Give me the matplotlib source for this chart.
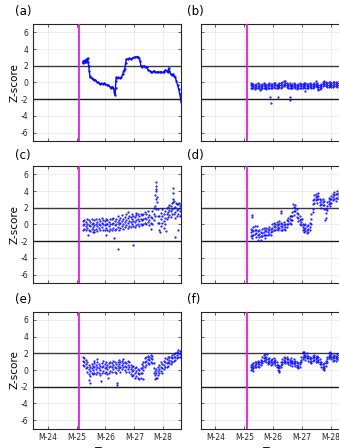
import matplotlib
matplotlib.use("Agg")
import matplotlib.pyplot as plt

plt.rcParams['font.family'] = ['DejaVu Sans']
plt.rcParams['axes.unicode_minus'] = False

# time in months (M-24 ... M-28)
x_ticks = [24, 25, 26, 27, 28]
x_labels = ['M-24', 'M-25', 'M-26', 'M-27', 'M-28']
y_ticks = [-6, -4, -2, 0, 2, 4, 6]
event_month = 25.08
panel_names = ['(a)', '(b)', '(c)', '(d)', '(e)', '(f)']

# panel (a): a single smooth track
a_x = [25.22, 25.24, 25.26, 25.28, 25.30, 25.32, 25.34, 25.36, 25.38, 25.40,
       25.42, 25.44, 25.46, 25.48, 25.52, 25.56, 25.60, 25.65, 25.70, 25.75,
       25.80, 25.85, 25.90, 25.95, 26.00, 26.05, 26.10, 26.15, 26.20, 26.24,
       26.28, 26.31, 26.33, 26.35, 26.36, 26.38, 26.40, 26.45, 26.50, 26.55,
       26.60, 26.63, 26.67, 26.70, 26.73, 26.78, 26.83, 26.88, 26.93, 26.98,
       27.03, 27.08, 27.12, 27.16, 27.20, 27.23, 27.28, 27.33, 27.38, 27.43,
       27.48, 27.53, 27.58, 27.63, 27.68, 27.73, 27.78, 27.83, 27.88, 27.93,
       27.98, 28.03, 28.08, 28.12, 28.16, 28.19, 28.22, 28.26, 28.30, 28.34,
       28.38, 28.42, 28.46, 28.50, 28.54, 28.58, 28.62]
a_y = [2.3, 2.6, 2.4, 2.5, 2.7, 2.5, 2.6, 2.8, 2.9, 2.4,
       2.0, 1.4, 0.8, 0.6, 0.5, 0.4, 0.3, 0.3, 0.1, 0.0,
       -0.2, -0.1, -0.2, -0.1, -0.2, -0.3, -0.3, -0.5, -0.6, -0.5,
       -0.7, -1.1, -1.5, -0.6, 0.2, 0.6, 0.5, 0.6, 0.5, 0.6,
       1.0, 1.4, 1.6, 2.3, 2.8, 2.8, 2.9, 2.8, 2.9, 3.0,
       3.0, 3.1, 3.1, 2.9, 2.6, 2.0, 1.9, 2.0, 1.9, 1.8,
       1.5, 1.4, 1.3, 1.2, 1.4, 1.3, 1.2, 1.3, 1.2, 1.3,
       1.2, 1.3, 1.5, 1.4, 1.2, 1.7, 1.4, 1.0, 0.9, 1.0,
       0.8, 0.6, 0.2, -0.3, -0.8, -1.4, -2.3]

# panels (b)-(f): scattered bands sampled on a common time grid
t = [25.22, 25.27, 25.32, 25.37, 25.42, 25.47, 25.52, 25.57, 25.62, 25.67,
     25.72, 25.77, 25.82, 25.87, 25.92, 25.97, 26.02, 26.07, 26.12, 26.17,
     26.22, 26.27, 26.32, 26.37, 26.42, 26.47, 26.52, 26.57, 26.62, 26.67,
     26.72, 26.77, 26.82, 26.87, 26.92, 26.97, 27.02, 27.07, 27.12, 27.17,
     27.22, 27.27, 27.32, 27.37, 27.42, 27.47, 27.52, 27.57, 27.62, 27.67,
     27.72, 27.77, 27.82, 27.87, 27.92, 27.97, 28.02, 28.07, 28.12, 28.17,
     28.22, 28.27, 28.32, 28.37, 28.42, 28.47, 28.52, 28.57, 28.62]

b_mid = [-0.35, -0.45, -0.40, -0.50, -0.45, -0.40, -0.45, -0.50, -0.40, -0.35,
         -0.45, -0.50, -0.40, -0.35, -0.45, -0.40, -0.30, -0.35, -0.45, -0.40,
         -0.30, -0.35, -0.25, -0.15, -0.10, -0.30, -0.40, -0.35, -0.45, -0.40,
         -0.30, -0.40, -0.50, -0.40, -0.35, -0.45, -0.40, -0.30, -0.35, -0.45,
         -0.40, -0.30, -0.40, -0.45, -0.30, -0.15, -0.30, -0.50, -0.55, -0.45,
         -0.20, -0.10, -0.20, -0.30, -0.25, -0.20, -0.30, -0.25, -0.15, -0.20,
         -0.25, -0.10, -0.20, -0.25, -0.15, -0.20, -0.10, -0.20, -0.15]
b_hi = [-0.1, -0.2, -0.15, -0.25, -0.2, -0.1, -0.2, -0.3, -0.15, -0.1,
        -0.2, -0.3, -0.15, -0.1, -0.2, -0.15, -0.05, -0.1, -0.25, -0.2,
        -0.05, -0.1, 0.0, 0.15, 0.2, -0.1, -0.15, -0.1, -0.25, -0.2,
        -0.05, -0.2, -0.3, -0.15, -0.1, -0.2, -0.2, -0.05, -0.1, -0.2,
        -0.2, -0.05, -0.15, -0.2, -0.05, 0.15, -0.1, -0.3, -0.3, -0.2,
        0.05, 0.2, 0.0, -0.1, 0.0, 0.05, -0.1, 0.0, 0.1, 0.0,
        -0.05, 0.15, 0.0, -0.05, 0.1, 0.0, 0.1, 0.0, 0.05]
b_lo = [-0.6, -0.7, -0.65, -0.75, -0.7, -0.6, -0.7, -0.75, -0.65, -0.6,
        -0.7, -0.75, -0.65, -0.6, -0.7, -0.65, -0.55, -0.6, -0.7, -0.65,
        -0.55, -0.6, -0.5, -0.4, -0.35, -0.55, -0.65, -0.6, -0.7, -0.65,
        -0.55, -0.65, -0.75, -0.65, -0.6, -0.7, -0.65, -0.55, -0.6, -0.7,
        -0.65, -0.55, -0.65, -0.7, -0.55, -0.4, -0.55, -0.75, -0.8, -0.7,
        -0.45, -0.35, -0.45, -0.55, -0.5, -0.45, -0.55, -0.5, -0.4, -0.45,
        -0.5, -0.35, -0.45, -0.5, -0.4, -0.45, -0.35, -0.45, -0.4]
b_out_x = [25.56, 25.89, 25.91, 26.17, 26.58, 26.59, 27.54, 27.10]
b_out_y = [-0.95, -1.7, -2.4, -1.7, -2.1, -1.75, -0.95, -1.0]

c_mid = [-0.1, 0.0, -0.2, 0.1, -0.1, -0.2, 0.0, -0.3, -0.1, 0.0,
         -0.2, 0.1, -0.1, 0.2, 0.0, -0.1, 0.1, 0.0, -0.2, 0.1,
         0.0, 0.2, -0.1, 0.1, 0.3, 0.0, 0.2, 0.4, 0.1, 0.3,
         0.5, 0.2, 0.4, 0.3, 0.6, 0.4, 0.3, 0.5, 0.6, 0.4,
         0.7, 0.5, 0.6, 0.8, 0.7, 0.9, 0.5, 0.2, 0.8, 1.2,
         2.2, 3.0, 1.0, 0.2, 0.6, 1.0, 0.4, 0.8, 1.2, 1.5,
         1.7, 1.6, 1.8, 2.0, 1.5, 1.7, 1.9, 1.6, 1.8]
c_hi = [0.4, 0.5, 0.3, 0.6, 0.5, 0.3, 0.6, 0.2, 0.5, 0.6,
        0.3, 0.7, 0.4, 0.8, 0.5, 0.4, 0.7, 0.5, 0.3, 0.6,
        0.6, 0.8, 0.4, 0.7, 1.0, 0.5, 0.8, 1.1, 0.6, 0.9,
        1.2, 0.8, 1.0, 0.9, 1.3, 1.0, 0.9, 1.1, 1.3, 1.0,
        1.3, 1.1, 1.2, 1.5, 1.3, 1.6, 1.1, 0.9, 1.6, 2.0,
        3.5, 4.2, 1.9, 1.0, 1.4, 1.8, 1.2, 1.6, 2.0, 2.1,
        2.3, 2.2, 2.6, 2.8, 2.1, 2.4, 2.5, 2.2, 2.4]
c_lo = [-0.6, -0.5, -0.7, -0.4, -0.7, -0.8, -0.5, -0.9, -0.6, -0.5,
        -0.8, -0.4, -0.7, -0.3, -0.6, -0.7, -0.4, -0.6, -0.8, -0.5,
        -0.6, -0.4, -0.7, -0.5, -0.3, -0.6, -0.4, -0.2, -0.5, -0.3,
        -0.1, -0.4, -0.2, -0.3, 0.0, -0.2, -0.3, -0.1, 0.0, -0.2,
        0.1, -0.1, 0.0, 0.2, 0.1, 0.3, -0.1, -0.5, 0.1, 0.5,
        1.0, 1.8, 0.2, -0.6, -0.2, 0.2, -0.4, 0.0, 0.6, 0.9,
        1.1, 0.9, 1.2, 1.3, 0.8, 1.0, 1.2, 1.0, 1.1]
c_out_x = [25.40, 25.60, 26.02, 26.30, 26.42, 26.95, 26.80, 27.05, 27.75,
           27.76, 27.74, 27.78, 27.79, 28.33, 28.34, 28.35, 28.36, 28.45,
           27.90, 28.10, 28.40, 28.50, 28.55]
c_out_y = [-1.3, -0.9, -1.2, -1.6, -2.9, -2.4, 1.5, 1.4, 4.6,
           5.1, 4.0, 3.3, 2.7, 4.4, 3.8, 3.1, 2.7, 2.6,
           -0.9, -0.8, -1.5, -0.6, 2.6]

d_mid = [-0.9, -1.2, -0.8, -0.6, -1.0, -1.3, -1.1, -1.4, -1.0, -0.9,
         -1.2, -0.8, -0.9, -0.7, -0.9, -0.4, -0.2, -0.3, -0.1, -0.3,
         0.0, -0.2, -0.3, -0.1, -0.3, 0.1, 0.4, 0.6, 0.5, 1.0,
         1.6, 2.0, 1.4, 0.8, 0.5, 0.3, -0.3, -0.5, -0.4, -0.6,
         -0.5, -0.3, 0.6, 2.4, 3.0, 3.3, 3.0, 3.4, 2.7, 2.4,
         2.7, 2.3, 1.4, 2.2, 2.8, 2.6, 3.0, 3.3, 3.5, 3.2,
         3.6, 3.4, 3.7, 3.5, 3.6, 3.8, 3.5, 3.7, 3.6]
d_hi = [-0.5, -0.7, -0.3, -0.2, -0.6, -0.8, -0.6, -0.9, -0.5, -0.4,
        -0.7, -0.4, -0.5, -0.3, -0.5, 0.0, 0.2, 0.1, 0.3, 0.1,
        0.4, 0.2, 0.1, 0.3, 0.1, 0.5, 0.8, 1.0, 1.0, 1.5,
        2.1, 2.3, 1.9, 1.3, 1.0, 0.7, 0.1, -0.1, 0.0, -0.2,
        -0.1, 0.2, 1.2, 2.9, 3.5, 3.7, 3.4, 3.8, 3.1, 2.9,
        3.1, 2.8, 1.9, 2.7, 3.2, 3.0, 3.4, 3.7, 3.9, 3.6,
        4.0, 3.8, 4.1, 3.9, 4.0, 4.2, 3.9, 4.1, 4.0]
d_lo = [-1.4, -1.6, -1.3, -1.1, -1.5, -1.8, -1.5, -1.9, -1.4, -1.3,
        -1.6, -1.2, -1.3, -1.1, -1.3, -0.8, -0.6, -0.7, -0.5, -0.7,
        -0.4, -0.6, -0.7, -0.5, -0.7, -0.3, 0.0, 0.2, 0.1, 0.5,
        1.1, 1.6, 0.9, 0.4, 0.1, -0.1, -0.7, -0.9, -0.8, -1.0,
        -0.9, -0.7, 0.1, 1.9, 2.6, 2.9, 2.6, 3.0, 2.3, 2.0,
        2.3, 1.9, 0.8, 1.7, 2.4, 2.2, 2.6, 2.9, 3.1, 2.8,
        3.2, 3.0, 3.3, 3.1, 3.2, 3.4, 3.1, 3.3, 3.2]
d_out_x = [25.26, 25.27, 25.45, 26.27, 26.28, 26.70, 27.00, 27.38, 27.80]
d_out_y = [1.1, 0.9, -0.2, 1.6, 1.4, 2.4, 0.6, 1.5, 0.5]

e_mid = [1.1, 1.0, 0.7, 0.4, 0.1, -0.1, 0.2, 0.0, 0.3, 0.1,
         0.4, 0.2, 0.0, 0.3, 0.5, 0.2, 0.4, 0.1, 0.3, 0.5,
         0.3, 0.6, 0.4, 0.2, 0.5, 0.7, 0.4, 0.6, 0.8, 0.5,
         0.3, 0.6, 0.4, 0.1, -0.1, 0.0, -0.3, -0.1, -0.4, -0.5,
         -0.3, 0.2, 0.5, 0.9, 1.1, 1.3, 1.2, 1.4, 1.3, 0.2,
         -0.6, -0.4, -0.1, 0.1, 0.4, 0.2, 0.6, 0.9, 0.8, 1.0,
         1.2, 1.1, 1.4, 1.5, 1.6, 1.8, 2.0, 1.9, 2.0]
e_hi = [1.5, 1.4, 1.2, 0.9, 0.6, 0.4, 0.7, 0.5, 0.8, 0.6,
        1.0, 0.7, 0.5, 0.8, 1.1, 0.7, 0.9, 0.6, 0.8, 1.0,
        0.8, 1.1, 0.9, 0.7, 1.0, 1.2, 0.9, 1.1, 1.3, 1.0,
        0.8, 1.1, 0.9, 0.6, 0.4, 0.5, 0.2, 0.4, 0.1, 0.0,
        0.2, 0.7, 1.0, 1.4, 1.6, 1.7, 1.6, 1.8, 1.7, 0.8,
        -0.1, 0.1, 0.4, 0.6, 0.9, 0.7, 1.1, 1.4, 1.3, 1.5,
        1.6, 1.5, 1.8, 1.9, 2.0, 2.2, 2.4, 2.3, 2.3]
e_lo = [0.6, 0.5, 0.2, -0.2, -0.5, -0.7, -0.3, -0.5, -0.3, -0.5,
        -0.2, -0.4, -0.6, -0.3, -0.1, -0.4, -0.2, -0.5, -0.3, -0.1,
        -0.2, 0.1, -0.2, -0.4, 0.0, 0.2, -0.2, 0.1, 0.3, 0.0,
        -0.2, 0.1, -0.2, -0.5, -0.7, -0.6, -0.9, -0.7, -1.0, -1.1,
        -0.9, -0.3, 0.0, 0.4, 0.6, 0.8, 0.7, 0.9, 0.8, -0.3,
        -1.1, -0.9, -0.6, -0.4, -0.1, -0.3, 0.1, 0.4, 0.3, 0.5,
        0.8, 0.7, 1.0, 1.1, 1.2, 1.4, 1.6, 1.5, 1.6]
e_out_x = [25.43, 25.46, 25.62, 25.72, 25.85, 26.10, 26.40, 26.41, 27.30, 27.80]
e_out_y = [-1.2, -1.6, 1.1, 1.3, -1.3, -1.0, -1.8, -1.5, -1.1, -1.0]

f_mid = [0.3, 0.4, 0.5, 0.6, 0.7, 0.8, 0.7, 0.9, 1.1, 1.4,
         1.5, 1.3, 1.0, 1.1, 0.9, 1.0, 1.1, 0.9, 0.6, 0.3,
         0.2, 0.6, 1.0, 1.2, 1.1, 1.3, 1.0, 0.9, 1.1, 0.8,
         1.0, 0.8, 0.6, 0.5, 0.7, 1.2, 1.6, 1.8, 1.5, 1.7,
         1.4, 1.3, 1.1, 1.4, 1.5, 1.3, 1.4, 1.2, 1.0, 0.7,
         0.4, 0.5, 0.8, 1.3, 1.7, 1.8, 1.6, 1.4, 1.5, 1.4,
         1.6, 1.5, 1.7, 1.6, 1.5, 1.7, 1.6, 1.5, 1.6]
f_hi = [0.6, 0.7, 0.8, 0.9, 1.0, 1.1, 1.0, 1.2, 1.5, 1.8,
        1.9, 1.6, 1.3, 1.4, 1.2, 1.3, 1.4, 1.2, 0.9, 0.6,
        0.5, 0.9, 1.3, 1.5, 1.4, 1.6, 1.3, 1.2, 1.4, 1.1,
        1.3, 1.1, 0.9, 0.8, 1.0, 1.5, 2.0, 2.2, 1.8, 2.0,
        1.7, 1.6, 1.4, 1.7, 1.8, 1.6, 1.7, 1.5, 1.3, 1.0,
        0.7, 0.8, 1.1, 1.6, 2.0, 2.1, 1.9, 1.7, 1.8, 1.7,
        1.9, 1.8, 2.0, 1.9, 1.8, 2.0, 1.9, 1.8, 1.9]
f_lo = [0.0, 0.1, 0.2, 0.3, 0.4, 0.5, 0.4, 0.6, 0.8, 1.1,
        1.2, 1.0, 0.7, 0.8, 0.6, 0.7, 0.8, 0.6, 0.3, 0.0,
        -0.1, 0.3, 0.7, 0.9, 0.8, 1.0, 0.7, 0.6, 0.8, 0.5,
        0.7, 0.5, 0.3, 0.2, 0.4, 0.9, 1.3, 1.5, 1.2, 1.4,
        1.1, 1.0, 0.8, 1.1, 1.2, 1.0, 1.1, 0.9, 0.7, 0.4,
        0.1, 0.2, 0.5, 1.0, 1.4, 1.5, 1.3, 1.1, 1.2, 1.1,
        1.3, 1.2, 1.4, 1.3, 1.2, 1.4, 1.3, 1.2, 1.3]
f_out_x = [25.30, 25.80, 26.20, 27.05, 27.75]
f_out_y = [-0.1, 1.9, -0.2, 2.2, 0.0]

bands = {
    1: (b_lo, b_mid, b_hi, b_out_x, b_out_y),
    2: (c_lo, c_mid, c_hi, c_out_x, c_out_y),
    3: (d_lo, d_mid, d_hi, d_out_x, d_out_y),
    4: (e_lo, e_mid, e_hi, e_out_x, e_out_y),
    5: (f_lo, f_mid, f_hi, f_out_x, f_out_y),
}

W, H = 339, 448
fig = plt.figure(figsize=(W / 100, H / 100), dpi=100)

col_left = [33, 200.7]
row_top = [24, 166, 311.5]
ax_w, ax_h = 148, 117
blue = '#0a0aff'

for i in range(6):
    r, c = divmod(i, 2)
    ax = fig.add_axes([col_left[c] / W, 1 - (row_top[r] + ax_h) / H, ax_w / W, ax_h / H])
    ax.set_xlim(23.49, 28.62)
    ax.set_ylim(-7, 7)
    ax.set_xticks(x_ticks)
    ax.set_yticks(y_ticks)
    ax.grid(True, color='#ebebeb', lw=0.6)
    ax.set_axisbelow(True)
    ax.tick_params(direction='in', top=True, right=True, length=2, width=0.5,
                   labelsize=5.5, colors='#262626', pad=3.5)
    for sp in ax.spines.values():
        sp.set_linewidth(0.8)
        sp.set_color('#262626')
    ax.axhline(2, color='#3a3a3a', lw=1.0, zorder=2)
    ax.axhline(-2, color='#1a1a1a', lw=1.0, zorder=2)
    ax.axvline(event_month, color='#e01ee0', lw=1.3, zorder=3)

    if r == 2:
        ax.set_xticklabels(x_labels)
        ax.set_xlabel('Time', fontsize=7.5, labelpad=3)
    else:
        ax.set_xticklabels([])
    if c == 0:
        ax.set_ylabel('Z-score', fontsize=7.5, labelpad=1)
    else:
        ax.set_yticklabels([])

    if i == 0:
        ax.plot(a_x, a_y, color=blue, lw=1.0, marker='.', ms=1.3, zorder=4)
    else:
        lo, mid, hi, ox, oy = bands[i]
        for ys in (lo, mid, hi):
            ax.plot(t, ys, ls='none', marker='.', ms=1.1, color=blue, zorder=4)
        ax.plot(ox, oy, ls='none', marker='.', ms=1.1, color=blue, zorder=4)

    fig.text((15 if c == 0 else 187) / W, 1 - [12, 155, 300][r] / H, panel_names[i],
             fontsize=8.5, va='center', ha='left')

fig.savefig('out.png', dpi=100)
